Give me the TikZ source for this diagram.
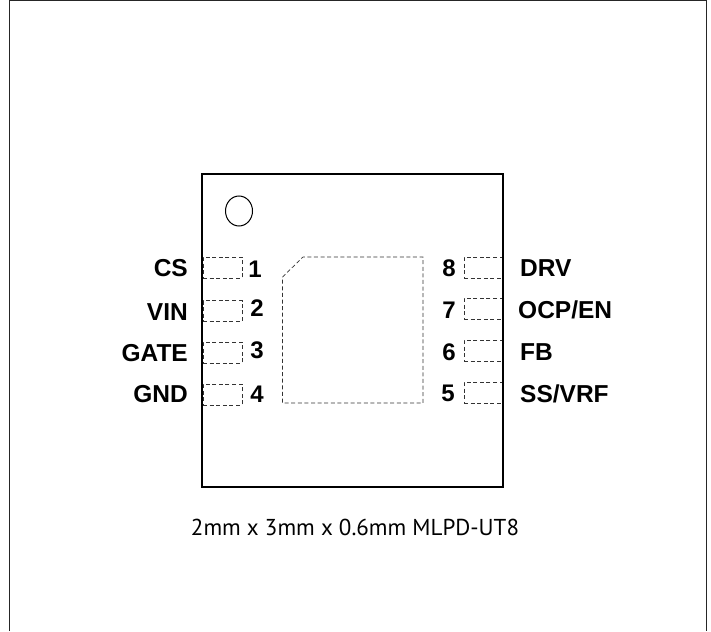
\documentclass[tikz,border=0pt]{standalone}
\usepackage{fontspec}
\setmainfont{Liberation Sans}
\newfontfamily\capfont{PT Sans}
\usetikzlibrary{shapes.geometric}
\begin{document}
\begin{tikzpicture}[x=1pt,y=-1pt,
    dashline/.style={draw=black!80, line width=0.7pt, dash pattern=on 4pt off 2.6pt},
    pad/.style={dashline, minimum width=39pt, minimum height=21pt, inner sep=0pt},
    pinname/.style={font=\fontsize{24.5}{24.5}\selectfont\bfseries, inner sep=0pt},
    pinnum/.style={font=\fontsize{24}{24}\selectfont\bfseries, inner sep=0pt}]
    \useasboundingbox (0,0) rectangle (711,631);

    % Outer frame
    \draw[line width=1pt, black!85] (9.5,631) -- (9.5,0.5) -- (706.5,0.5) -- (706.5,631);

    % Left pads
    \node[pad] (pad1) at (222.5,267.5) {};
    \node[pad] (pad2) at (222.5,311) {};
    \node[pad] (pad3) at (222.5,352.5) {};
    \node[pad] (pad4) at (222.5,394.5) {};

    % Right pads
    \node[pad] (pad8) at (483.5,267.5) {};
    \node[pad] (pad7) at (483.5,308.5) {};
    \node[pad] (pad6) at (483.5,350.5) {};
    \node[pad] (pad5) at (483.5,392.5) {};

    % Package body
    \node[draw, line width=2pt, minimum width=301.5pt, minimum height=313pt, inner sep=0pt, anchor=north west] (body) at (200.8,172.5) {};
    \node[draw, ellipse, line width=1pt, minimum width=27pt, minimum height=30pt, inner sep=0pt] (dot) at (239,211) {};

    % Thermal pad
    \draw[dashline] (282.5,277) -- (303,257) -- (423,257) -- (423,403) -- (282.5,403) -- cycle;

    % Pin numbers
    \node[pinnum] (num1) at (255,269) {1};
    \node[pinnum] (num2) at (257,308) {2};
    \node[pinnum] (num3) at (257,350) {3};
    \node[pinnum] (num4) at (257,394) {4};
    \node[pinnum] (num8) at (449,268) {8};
    \node[pinnum] (num7) at (449,310) {7};
    \node[pinnum] (num6) at (449,352) {6};
    \node[pinnum] (num5) at (448,393) {5};

    % Pin names
    \node[pinname, anchor=east] (cs) at (188,268) {CS};
    \node[pinname, anchor=east] (vin) at (188,312) {VIN};
    \node[pinname, anchor=east] (gate) at (188,353) {GATE};
    \node[pinname, anchor=east] (gnd) at (188,394) {GND};
    \node[pinname, anchor=west] (drv) at (520,268) {DRV};
    \node[pinname, anchor=west] (ocp) at (518,310) {OCP/EN};
    \node[pinname, anchor=west] (fb) at (520,352) {FB};
    \node[pinname, anchor=west] (ss) at (520,394) {SS/VRF};

    % Caption
    \node[font=\capfont\fontsize{23}{23}\selectfont, inner sep=0pt] (caption) at (355,527) {2mm x 3mm x 0.6mm MLPD-UT8};
\end{tikzpicture}
\end{document}
